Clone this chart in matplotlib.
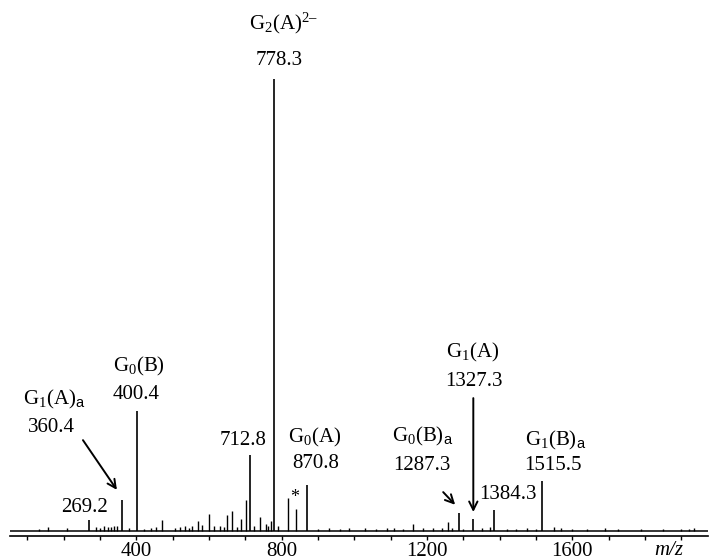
import numpy as np
import matplotlib
matplotlib.use('Agg')
import matplotlib.pyplot as plt

plt.rcParams['font.family'] = ['Liberation Serif', 'DejaVu Serif']
plt.rcParams['mathtext.fontset'] = 'custom'
plt.rcParams['mathtext.rm'] = 'Liberation Serif'
plt.rcParams['mathtext.it'] = 'Liberation Serif:italic'
plt.rcParams['mathtext.sf'] = 'Liberation Sans'

# labelled peaks (m/z, relative intensity %)
main_mz = [269.2, 360.4, 400.4, 712.8, 778.3, 870.8, 1287.3, 1327.3, 1384.3, 1515.5]
main_int = [2.4, 6.9, 26.5, 16.8, 100.0, 10.2, 4.0, 2.7, 4.6, 11.1]

# other visible peaks
minor_mz = [133, 156, 208, 290, 300, 310, 322, 330, 338, 346, 380, 420, 440, 455, 470,
            505, 520, 533, 545, 552, 569, 580, 600, 615, 630, 640, 649, 664, 676, 688,
            702, 725, 741, 756, 763, 770, 790, 817, 838, 900, 930, 960, 985, 1028,
            1060, 1090, 1110, 1135, 1160, 1190, 1215, 1240, 1258, 1270, 1300, 1350,
            1372, 1420, 1445, 1475, 1500, 1548, 1570, 1600, 1640, 1690, 1725, 1790,
            1850, 1900, 1920, 1936]
minor_int = [0.5, 0.8, 0.6, 0.9, 0.7, 1.0, 0.8, 0.9, 1.1, 1.1, 0.6, 0.5, 0.7, 0.8, 2.4,
             0.7, 0.8, 1.1, 0.7, 1.2, 2.2, 1.3, 3.8, 1.0, 1.2, 0.9, 3.5, 4.4, 0.8, 2.7,
             6.9, 1.0, 3.1, 1.5, 1.0, 2.2, 1.1, 7.3, 4.9, 0.5, 0.6, 0.5, 0.6, 0.7,
             0.5, 0.6, 0.7, 0.5, 1.5, 0.6, 0.7, 0.6, 2.0, 0.7, 0.5, 0.6,
             0.8, 0.5, 0.5, 0.6, 0.5, 0.8, 0.6, 0.5, 0.4, 0.7, 0.4, 0.4,
             0.5, 0.4, 0.5, 0.7]

major_ticks = [400, 800, 1200, 1600]
minor_ticks = list(range(100, 2000, 100))

fig = plt.figure(figsize=(7.09, 5.60), dpi=100)
ax = fig.add_axes([0.014, 0.0429, 0.985, 0.9571])

ax.vlines(minor_mz, 0, minor_int, color='black', lw=1.0)
ax.vlines(main_mz, 0, main_int, color='black', lw=1.2)
ax.axhline(0, color='black', lw=1.1)

ax.set_xlim(52, 1974)
ax.set_ylim(-1.106, 117.5)

for s in ['left', 'right', 'top']:
    ax.spines[s].set_visible(False)
ax.spines['bottom'].set_linewidth(1.2)
ax.set_yticks([])
ax.set_xticks(major_ticks)
ax.set_xticks(minor_ticks, minor=True)
ax.tick_params(axis='x', which='both', direction='out', length=3, width=1.0,
               labelsize=15, pad=1.2)

fs = 15
arrow = dict(arrowstyle='->,head_length=0.6,head_width=0.3', lw=1.4, color='black',
             shrinkA=0, shrinkB=0)
# labels above peaks
ax.text(803.6, 112.4, 'G$_2$(A)$^{2\u2013}$', ha='center', va='center', fontsize=fs)
ax.text(792.6, 104.2, '778.3', ha='center', va='center', fontsize=fs)
ax.text(406.9, 36.3, r'G$_0$(B)', ha='center', va='center', fontsize=fs)
ax.text(398.6, 30.1, '400.4', ha='center', va='center', fontsize=fs)
ax.text(172.7, 29.0, r'G$_1$(A)$_\mathsf{a}$', ha='center', va='center', fontsize=fs)
ax.text(167.2, 23.0, '360.4', ha='center', va='center', fontsize=fs)
ax.annotate('', xy=(main_mz[1] - 14, main_int[1] + 2.2), xytext=(253, 20.1), arrowprops=arrow)
ax.text(258.1, 5.3, '269.2', ha='center', va='center', fontsize=fs)
ax.text(693.4, 20.1, '712.8', ha='center', va='center', fontsize=fs)
ax.text(889.0, 20.6, r'G$_0$(A)', ha='center', va='center', fontsize=fs)
ax.text(894.5, 15.0, '870.8', ha='center', va='center', fontsize=fs)
ax.text(836.6, 7.5, '*', ha='center', va='center', fontsize=13)
ax.text(1186.5, 20.8, r'G$_0$(B)$_\mathsf{a}$', ha='center', va='center', fontsize=fs)
ax.text(1186.5, 14.6, '1287.3', ha='center', va='center', fontsize=fs)
ax.annotate('', xy=(main_mz[6] - 10, main_int[6] + 1.8), xytext=(1244.4, 8.6), arrowprops=arrow)
ax.text(1324.2, 39.4, r'G$_1$(A)', ha='center', va='center', fontsize=fs)
ax.text(1329.8, 33.0, '1327.3', ha='center', va='center', fontsize=fs)
ax.annotate('', xy=(main_mz[7], main_int[7] + 1.5), xytext=(main_mz[7], 29.4), arrowprops=arrow)
ax.text(1423.4, 8.0, '1384.3', ha='center', va='center', fontsize=fs)
ax.text(1552.9, 20.1, r'G$_1$(B)$_\mathsf{a}$', ha='center', va='center', fontsize=fs)
ax.text(1547.4, 14.6, '1515.5', ha='center', va='center', fontsize=fs)

ax.text(1864, -0.028, 'm/z', transform=ax.get_xaxis_transform(), ha='center', va='center',
        fontsize=fs, fontstyle='italic')

fig.savefig('out.png', dpi=100)
